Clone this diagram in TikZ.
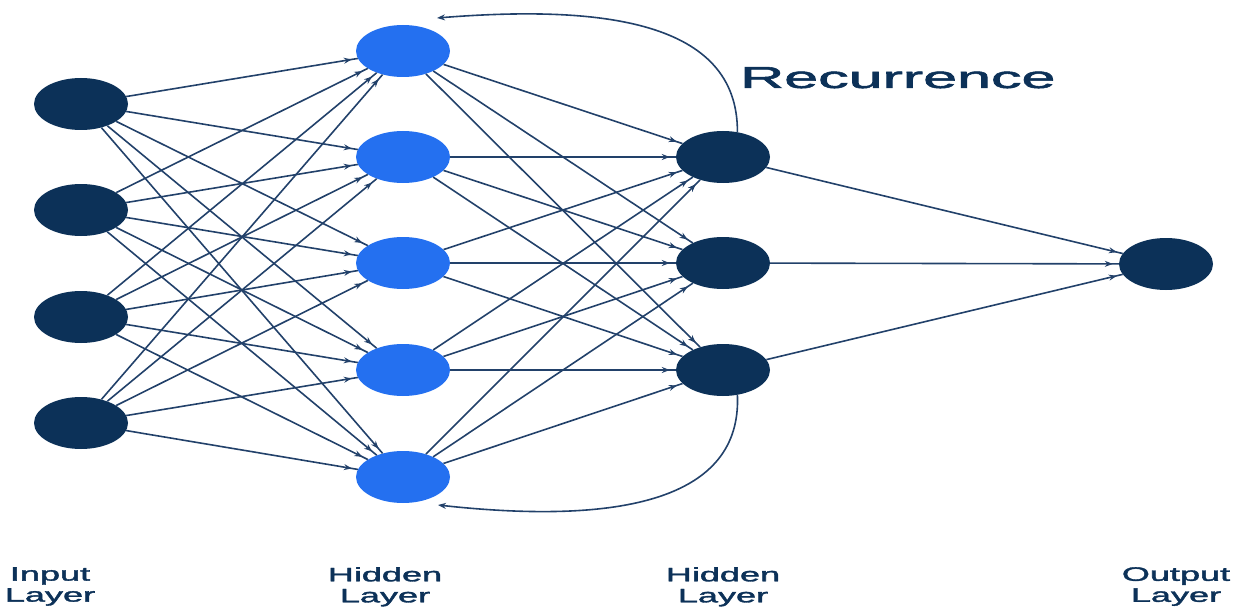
\documentclass[tikz,border=0pt]{standalone}
\usepackage{fontspec}
\setmainfont{Liberation Sans}
\newfontfamily\labelfont[FakeBold=1.6]{Liberation Sans}
\usetikzlibrary{shapes.geometric, arrows.meta, decorations.markings}
\definecolor{netnavy}{HTML}{0C3158}
\definecolor{netblue}{HTML}{2470F0}
\definecolor{netedge}{HTML}{22416A}
\newcommand{\wide}[2][1.85]{\scalebox{#1}[1]{#2}}

\begin{document}
\begin{tikzpicture}[
    x=1pt, y=-1pt,
    unit/.style={ellipse, minimum width=94pt, minimum height=52pt, inner sep=0pt},
    dark/.style={unit, fill=netnavy},
    bright/.style={unit, fill=netblue},
    link/.style={draw=netedge, line width=1.6pt, postaction={decorate},
        decoration={markings, mark=at position -6pt with {\arrow{Stealth[length=8pt,width=6pt]}}}},
    feedback/.style={-{Stealth[length=8pt,width=6pt]}, draw=netedge, line width=1.6pt},
    layer/.style={font=\labelfont\fontsize{19.5}{21}\selectfont, text=netnavy, align=center, anchor=north, inner sep=0pt}
]
\useasboundingbox (0,0) rectangle (1237,607);

% input layer
\foreach \i/\y in {1/104, 2/210, 3/317, 4/423}
  \node[dark] (in\i) at (81,\y) {};
% first hidden layer
\foreach \i/\y in {1/51, 2/157, 3/263, 4/370, 5/477}
  \node[bright] (hid\i) at (403,\y) {};
% second hidden layer
\foreach \i/\y in {1/157, 2/263, 3/370}
  \node[dark] (rec\i) at (723,\y) {};
% output layer
\node[dark] (out) at (1166,264) {};

% connections
\foreach \i in {1,...,4}
  \foreach \j in {1,...,5}
    \draw[link] (in\i) -- (hid\j);
\foreach \j in {1,...,5}
  \foreach \k in {1,2,3}
    \draw[link] (hid\j) -- (rec\k);
\foreach \k in {1,2,3}
  \draw[link] (rec\k) -- (out);

% recurrence loops
\coordinate (topend) at (437,18);
\coordinate (botend) at (438,505);
\draw[feedback] (rec1.60) .. controls (738,20) and (600,5) .. (topend);
\draw[feedback] (rec3.-60) .. controls (742,500) and (620,525) .. (botend);
\node[anchor=base west, inner sep=0pt, font=\labelfont\fontsize{30.5}{36}\selectfont, text=netnavy] (rectext) at (740,88) {\wide[2.0]{Recurrence}};

% layer captions
\node[layer] (capin) at (50,567) {\wide{Input}\\\wide{Layer}};
\node[layer] (caphida) at (385,567) {\wide{Hidden}\\\wide{Layer}};
\node[layer] (caphidb) at (723,567) {\wide{Hidden}\\\wide{Layer}};
\node[layer] (capout) at (1176,567) {\wide{Output}\\\wide{Layer}};
\end{tikzpicture}
\end{document}
